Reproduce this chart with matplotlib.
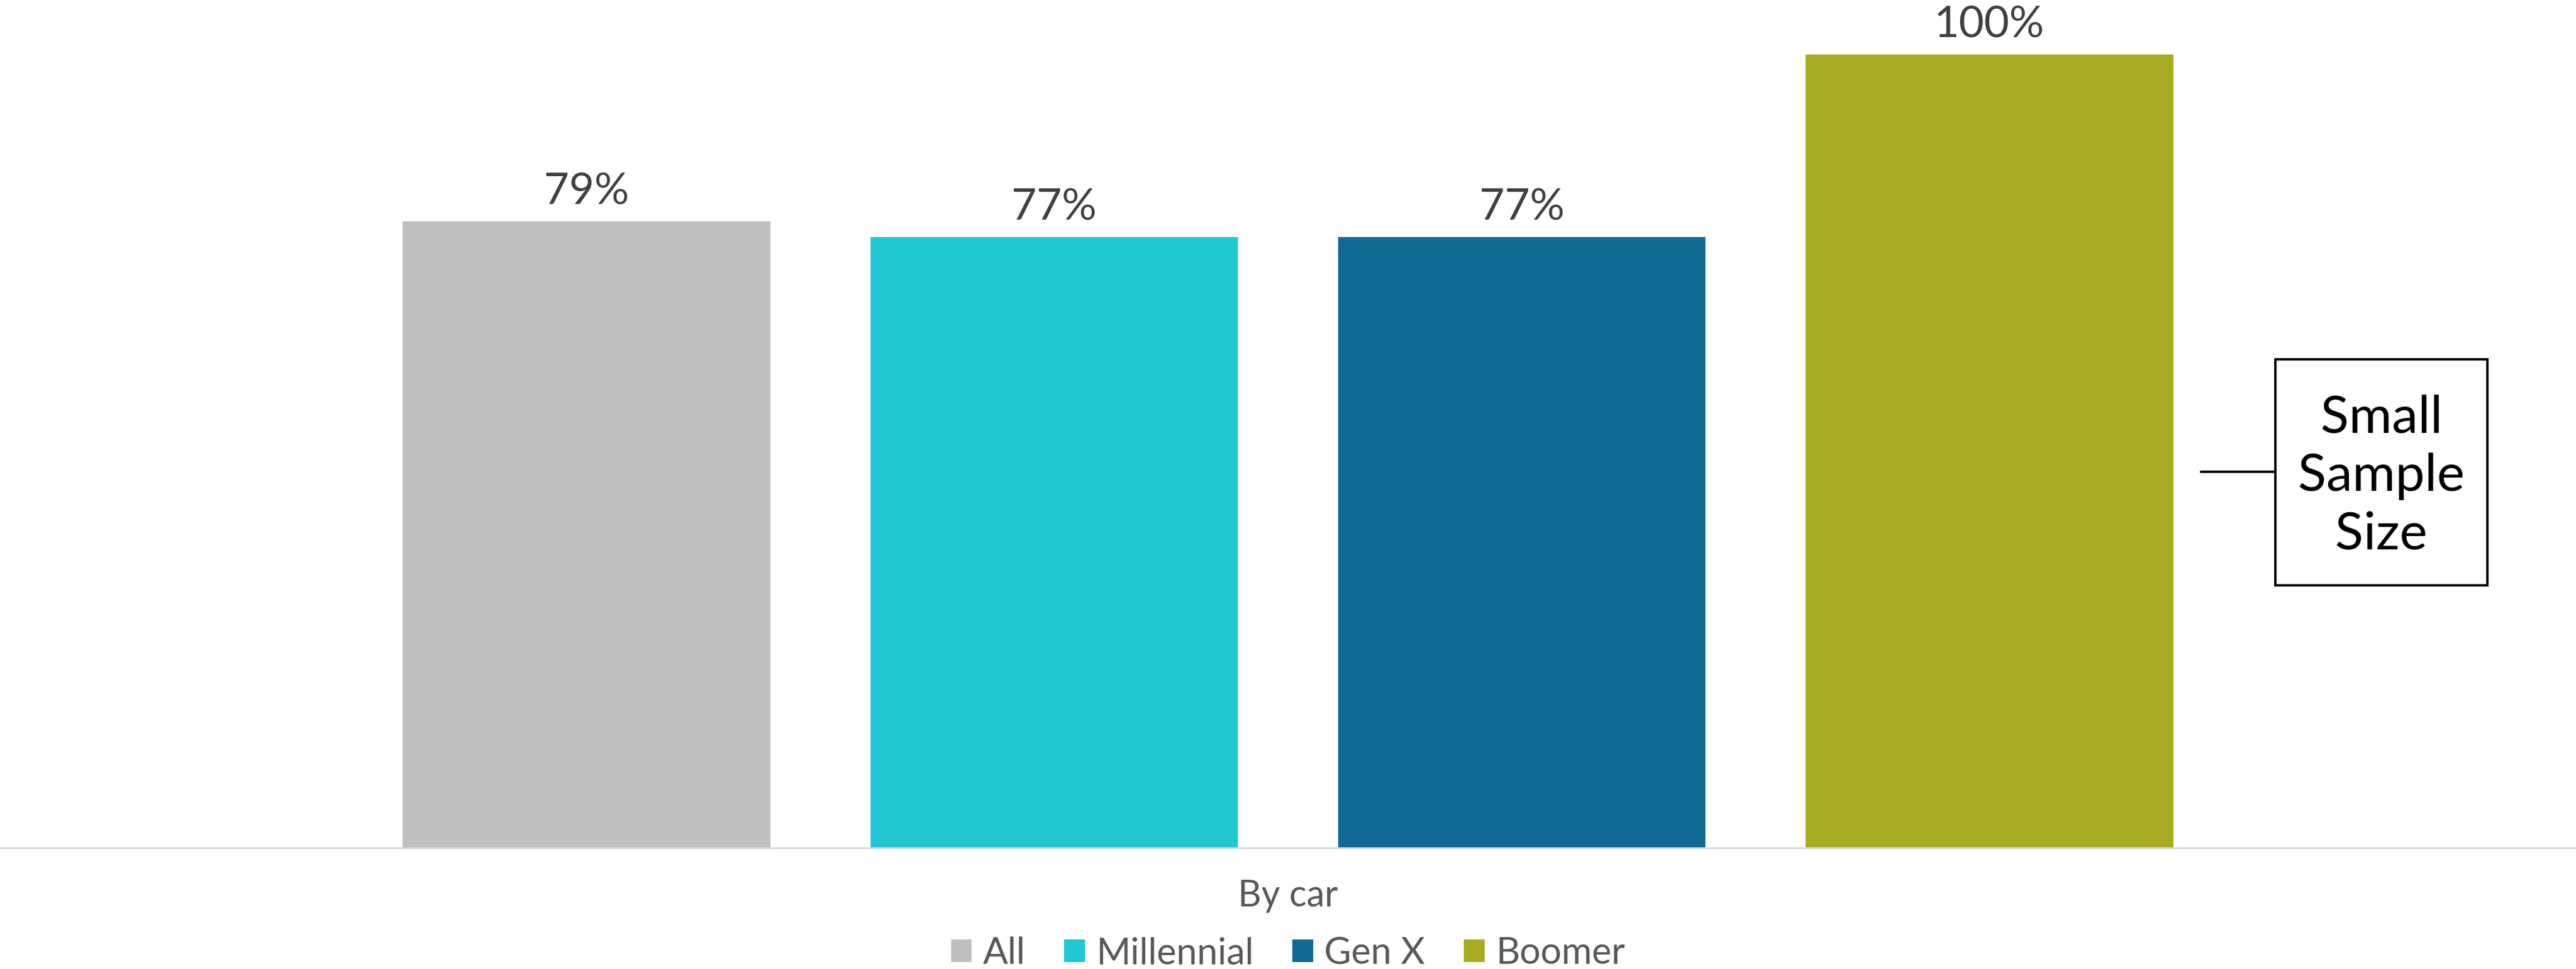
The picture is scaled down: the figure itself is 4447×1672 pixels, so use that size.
import matplotlib
matplotlib.use('Agg')
import matplotlib.pyplot as plt
from matplotlib.patches import Patch, Rectangle
from matplotlib.lines import Line2D

# Share of each group travelling by car
groups = ["All", "Millennial", "Gen X", "Boomer"]
shares = [79, 77, 77, 100]
colors = ["#BFBFBF", "#21C7D3", "#116A96", "#A8AC21"]
category = "By car"
note_lines = ["Small", "Sample", "Size"]

W, H, DPI = 4447, 1672, 100
plt.rcParams['font.family'] = ['Lato', 'DejaVu Sans']

fig = plt.figure(figsize=(W / DPI, H / DPI), dpi=DPI)
fig.patch.set_facecolor('white')

# axes fill the full width; baseline sits 209 px above the bottom edge
ax = fig.add_axes([0, 209 / H, 1, 1463 / H])
positions = [i - 1.5 for i in range(len(groups))]
bars = ax.bar(positions, shares, width=0.786, color=colors, label=groups)
ax.set_xlim(-2.754, 2.754)
ax.set_ylim(0, 106.9)

ax.bar_label(bars, labels=[f"{v}%" for v in shares], padding=12,
             fontsize=54, color='#404040')

for side in ('top', 'left', 'right'):
    ax.spines[side].set_visible(False)
ax.spines['bottom'].set_color('#D9D9D9')
ax.spines['bottom'].set_linewidth(2.2)
ax.set_xticks([])
ax.set_yticks([])

# category label under the baseline
fig.text(0.5, 126 / H, category, ha='center', va='center',
         fontsize=45, color='#595959')

handles = [Patch(facecolor=c, edgecolor='none') for c in colors]
fig.legend(handles, groups, loc='center', bbox_to_anchor=(0.5, 27 / H),
           ncol=4, frameon=False, fontsize=46, labelcolor='#595959',
           handlelength=0.56, handleheight=0.56, handletextpad=0.3,
           columnspacing=1.05, borderpad=0, borderaxespad=0)

# callout box flagging the Boomer bar
bx0, by0, bx1, by1 = 3928, 1672 - 1010, 4294, 1672 - 620
fig.add_artist(Rectangle((bx0 / W, by0 / H), (bx1 - bx0) / W, (by1 - by0) / H,
                         transform=fig.transFigure, facecolor='white',
                         edgecolor='black', linewidth=3))
ly = (1672 - 814) / H
fig.add_artist(Line2D([3800 / W, bx0 / W], [ly, ly], transform=fig.transFigure,
                      color='black', linewidth=3))
fig.text((bx0 + bx1) / 2 / W, (by0 + by1) / 2 / H - 0.004, "\n".join(note_lines),
         ha='center', va='center', fontsize=65, color='black', linespacing=1.28)

fig.savefig('out.png', dpi=DPI, facecolor='white')
